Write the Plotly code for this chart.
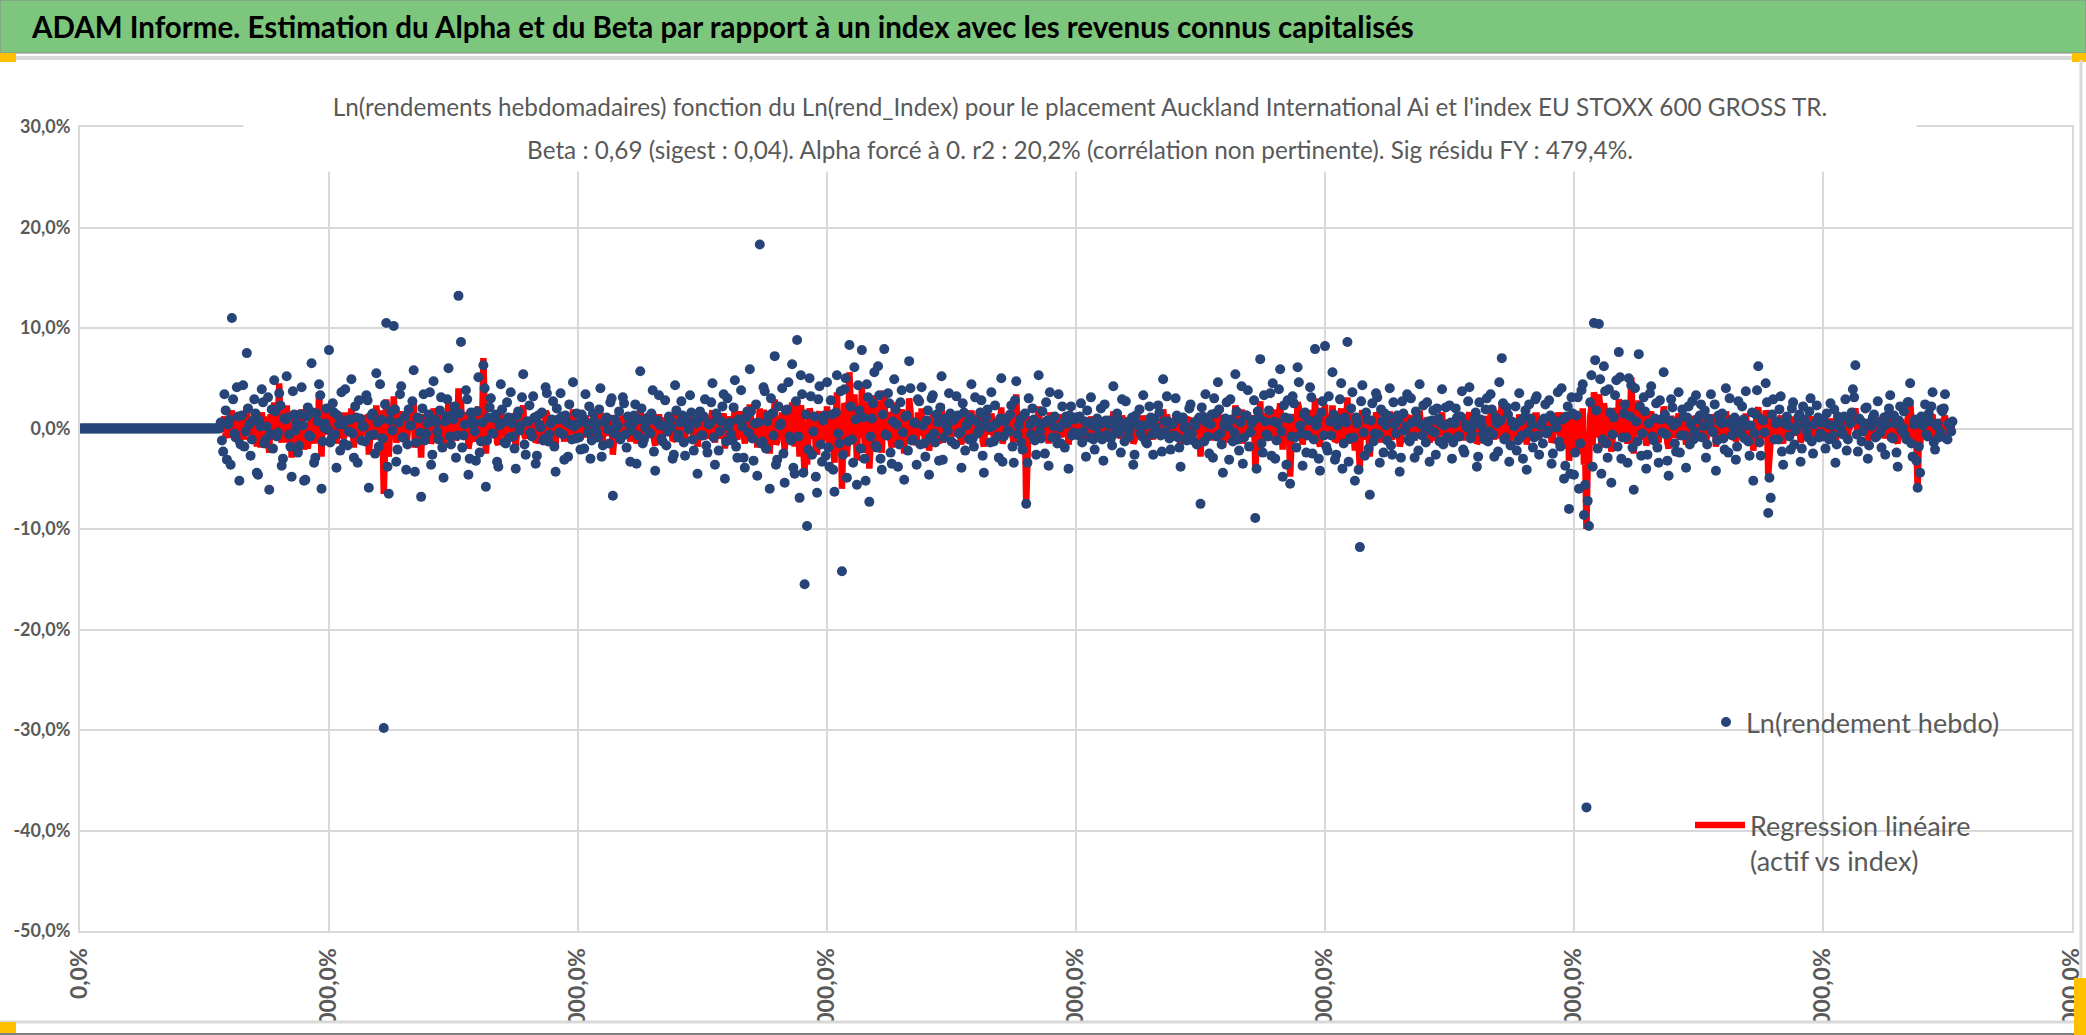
import numpy as np
import plotly.graph_objects as go

W, H = 2086, 1035

titre = "ADAM Informe. Estimation du Alpha et du Beta par rapport à un index avec les revenus connus capitalisés"
sous_titre_1 = "Ln(rendements hebdomadaires) fonction du Ln(rend_Index) pour le placement Auckland International Ai et l'index EU STOXX 600 GROSS TR."
sous_titre_2 = "Beta : 0,69 (sigest : 0,04). Alpha forcé à 0. r2 : 20,2% (corrélation non pertinente). Sig résidu FY : 479,4%."
nom_points = "Ln(rendement hebdo)"
nom_regression = "Regression linéaire<br>(actif vs index)"

y_ticks = [0.3, 0.2, 0.1, 0.0, -0.1, -0.2, -0.3, -0.4, -0.5]
y_tick_labels = ["30,0%", "20,0%", "10,0%", "0,0%", "-10,0%", "-20,0%", "-30,0%", "-40,0%", "-50,0%"]
x_ticks = [0, 200, 400, 600, 800, 1000, 1200, 1400, 1600]
x_tick_labels = ["0,0%", "20000,0%", "40000,0%", "60000,0%", "80000,0%",
                 "100000,0%", "120000,0%", "140000,0%", "160000,0%"]

# Ln(rendement hebdo) en %, périodes paires (0, 2, 4 ... 1504) ; bloc k = période 2k
rendement_pair = [
    # k 0-56 : pas encore de cotation
    0, 0, 0, 0, 0, 0, 0, 0, 0, 0, 0, 0, 0, 0, 0, 0, 0, 0, 0, 0, 0, 0, 0, 0, 0, 0, 0, 0, 0,
    0, 0, 0, 0, 0, 0, 0, 0, 0, 0, 0, 0, 0, 0, 0, 0, 0, 0, 0, 0, 0, 0, 0, 0, 0, 0, 0, 0,
    # k 57-99
    -1.2, 3.4, -3.1, 0.9, 11.0, -0.5, 4.1, -5.2, 1.3, -1.8, 7.5, 0.4, -1.1, 2.9, -4.4, 0.8, 3.9, -1.5, 0.2, -6.1, 1.9, 4.8,
    -0.8, 3.5, -3.7, 1.0, 5.2, -0.6, -4.8, 1.4, 0.5, -1.7, 4.1, -5.2, 1.2, -0.7, 6.5, -3.4, 1.5, 4.4, -6.0, 0.1, 2.0,
    # k 100-149
    7.8, -1.0, 1.6, -3.9, 0.4, 3.6, -1.5, 0.8, -0.3, 4.9, -2.9, 1.1, 2.8, -1.2, 0.2, 3.3, -5.9, 1.3, -0.6, 5.5, -1.8, 0.9, -29.8, 10.5, -6.5,
    1.7, 10.2, -3.3, 0.6, 4.2, -0.9, -4.1, 1.9, 0.3, 5.8, -1.4, 1.0, -6.8, 3.4, -0.5, 1.4, -3.6, 4.7, 0.6, -1.1, 3.1, -4.9, 1.2, 6.0, -1.6,
    # k 150-199
    0.9, -2.9, 13.2, 8.6, -0.7, 3.8, -4.6, 1.6, 0.4, -3.2, 5.1, -1.3, 6.3, -5.8, 1.1, 3.0, -0.5, 1.4, -3.8, 4.4, 0.6, -1.5, 1.1, 3.6, -0.8,
    -4.0, 1.7, 0.3, 5.4, -2.6, 0.7, -0.4, 3.2, -3.5, 1.3, 0.1, -1.2, 4.1, -1.3, 0.5, 2.7, -4.3, 0.9, 3.5, -0.6, 1.3, -2.8, 0.4, 4.6, -1.0,
    # k 200-249
    0.5, -2.1, 1.0, 3.4, -0.4, -3.0, 1.5, 0.2, -0.9, 4.0, -1.7, 0.7, -0.1, 2.6, -6.7, 0.9, 0.3, -1.1, 3.1, -0.6, 1.2, -3.3, 0.5, 2.4, -0.7,
    5.7, -1.5, 0.1, 1.1, -0.5, 3.8, -4.2, 0.8, 0.3, -1.3, 2.8, -0.3, 0.9, -3.0, 4.3, -0.9, 0.6, 1.3, -2.7, 0.4, 3.3, -1.1, 0.7, -4.5, 1.7,
    # k 250-299
    -0.7, 2.9, -2.4, 0.5, 4.5, -3.6, 1.0, -0.3, 2.2, -5.0, 3.0, 0.6, -1.2, 4.8, -2.9, 0.8, 0.2, -3.9, 1.7, 5.9, -1.0, 0.5, -4.7, 18.3, -1.3,
    3.7, 0.7, -6.0, 1.5, 7.2, -3.1, 0.3, 4.0, -5.4, 1.9, -0.8, 6.4, -4.5, 8.8, -6.9, 3.4, -15.5, -9.7, 5.0, -2.6, 1.2, -6.4, 4.2, -3.3, 1.3,
    # k 300-349
    4.6, -3.8, 1.4, -6.3, 5.3, -1.5, -14.2, 3.9, -4.9, 8.3, -1.1, 6.1, -5.6, 1.8, 7.8, -3.0, 4.4, -7.3, 1.0, 5.6, -1.9, 3.3, -4.1, 7.9, -0.7,
    2.5, -3.5, 4.9, 0.4, -1.6, 3.8, -5.1, 1.3, 6.7, -1.2, 0.6, -3.6, 2.7, 4.1, -1.5, 0.8, -4.6, 3.0, -0.5, 1.4, -3.2, 5.2, -0.9, 0.3, 3.5,
    # k 350-399
    -1.3, 0.9, 3.2, -0.5, -3.9, 1.6, 0.3, -1.1, 4.4, -1.8, 0.7, -0.2, 2.8, -4.4, 1.1, 0.1, 3.6, -1.3, 0.5, -2.9, 5.0, -0.8, 1.0, -0.3, 2.3,
    -3.4, 4.7, 0.3, -1.4, 1.3, -7.5, 3.0, -0.6, 0.9, -2.6, 5.3, -1.0, 0.5, 2.6, -3.7, 0.7, 0.2, -0.9, 3.4, -1.5, 0.6, 1.2, -4.0, 2.2, -0.4,
    # k 400-449
    1.1, -0.7, 2.5, -0.3, -2.8, 0.6, 3.1, -1.1, 0.2, -0.6, 2.0, -3.2, 0.8, 0.4, -1.0, 4.2, -0.5, 0.9, -2.4, 0.1, 2.7, -0.9, 0.5, -3.6, 1.3,
    0.3, -0.5, 3.3, -1.3, 0.4, 1.1, -2.6, 0.1, 2.3, -0.7, 4.9, -0.3, 0.7, -2.1, 0.5, 3.0, -0.9, -3.8, 1.1, 0.2, -0.6, 2.4, -1.2, 0.3, 0.9,
    # k 450-499
    -7.5, 1.2, 3.4, -0.8, 0.4, -2.9, 1.5, 4.6, -0.5, -4.4, 1.0, 0.2, 2.9, -1.3, 5.4, -1.1, 0.6, -3.5, 1.3, 3.8, -0.4, 0.8, -8.9, 1.7, 6.9,
    -2.4, 0.7, -0.8, 3.5, 4.5, -3.0, 0.5, 5.9, -4.8, 1.1, 2.8, -5.5, 3.2, -0.9, 6.1, 0.3, -3.7, 1.6, -0.7, 4.1, -2.5, 7.9, 0.9, -4.2, 2.7,
    # k 500-549
    8.2, -2.2, 0.7, 5.6, -3.1, 0.3, 2.9, -4.0, 1.1, 8.6, -1.0, 3.6, -5.2, 0.5, -11.8, 4.3, -2.7, 0.9, -6.6, 2.5, -0.5, 3.1, -3.4, 0.7, 1.5,
    -1.2, 4.0, -2.6, 0.4, 1.3, -4.3, 2.7, -0.2, 3.4, -1.3, 0.6, -2.9, 1.0, 4.4, -0.7, 0.2, 2.6, -3.3, 0.8, -0.4, 2.0, -1.3, 3.9, 0.3, -0.9,
    # k 550-599
    2.3, -3.0, 0.5, 1.1, -0.8, 3.7, -2.4, 0.1, 4.1, -0.6, 0.9, -3.8, 2.6, 0.3, -1.1, 3.0, -0.3, 1.9, -2.8, 0.5, 4.6, 7.0, -1.1, 2.1, -3.3,
    0.7, 0.2, -2.2, 3.5, -0.7, 1.1, -4.1, 2.4, 0.4, -0.9, 3.2, -2.6, 0.6, 1.0, -0.5, 2.8, -3.5, 0.8, 0.1, -1.3, 4.0, -5.0, 1.2, -8.0, 3.1,
    # k 600-649
    -4.6, 1.3, -6.0, 3.8, -8.6, -37.7, -9.7, 5.3, 10.5, 1.8, 10.4, -4.5, 6.2, -1.5, 3.9, -5.4, 1.1, 4.8, 7.6, -3.0, 1.5, -0.9, 5.0, 4.3, -6.1,
    0.7, 7.4, -2.7, 3.1, -4.0, 0.5, 4.2, -1.2, 2.5, -3.4, 0.9, 5.6, -0.6, -4.7, 2.9, 0.3, -2.3, 3.6, -0.7, 1.2, -3.9, 2.2, 0.4, -1.1, 3.3,
    # k 650-699
    -0.8, 2.4, 0.2, -2.9, 1.0, 3.4, -0.4, -4.2, 1.3, 0.5, -1.0, 4.0, -2.4, 0.7, 0.1, -3.1, 2.7, -0.5, 0.9, 3.7, -1.3, 0.3, -5.2, 1.4, 6.2,
    -2.7, 0.8, 4.5, -8.4, -6.9, 2.9, 0.5, -1.1, 3.2, -3.6, 0.7, 0.3, -2.1, 2.6, -0.2, 1.1, -3.3, 2.2, 0.4, -0.9, 3.0, -2.5, 0.6, 1.1, -0.5,
    # k 700-752
    0.9, -2.0, 0.4, 2.5, -0.7, -3.4, 1.2, 0.1, -0.6, 2.9, -1.1, 0.5, 3.9, 6.3, -2.3, 0.8, -0.3, 2.0, -3.0, 0.6, 1.1, -0.9, 2.7, -0.4, 0.2, -2.6,
    1.3, 3.3, -1.0, 0.5, -3.8, 2.2, 0.1, -0.7, 2.6, 4.5, -2.8, 0.9, -5.9, -4.4, 0.3, 2.4, -0.8, 0.7, 3.6, -2.1, 0.5, -0.3, 1.7, 3.4, -1.1, 0.3, 0.7,
]

# Ln(rendement hebdo) en %, périodes impaires (1, 3 ... 1503) ; bloc k = période 2k+1
rendement_impair = [
    # k 0-55 : pas encore de cotation
    0, 0, 0, 0, 0, 0, 0, 0, 0, 0, 0, 0, 0, 0, 0, 0, 0, 0, 0, 0, 0, 0, 0, 0, 0, 0, 0, 0,
    0, 0, 0, 0, 0, 0, 0, 0, 0, 0, 0, 0, 0, 0, 0, 0, 0, 0, 0, 0, 0, 0, 0, 0, 0, 0, 0, 0,
    # k 56-99
    0.6, -2.3, 1.8, 0.4, -3.6, 2.9, -0.9, 1.2, -1.6, 4.3, -0.3, 2.0, -2.7, 0.8, 1.5, -4.6, 0.2, 2.6, -1.1, 3.1, -0.6, -2.0,
    1.7, -0.4, 2.3, -3.0, 0.9, 1.1, -1.8, 3.7, -0.2, -2.4, 1.4, 0.3, -5.1, 2.1, -0.8, 1.6, -2.9, 0.7, 3.3, -1.3, 0.5, -0.1,
    # k 100-149
    -1.4, 2.5, -0.6, 1.3, -2.2, 0.4, 3.9, -1.7, 0.9, -0.5, 2.2, -3.4, 1.0, 0.2, -1.3, 2.8, -0.7, 1.5, -2.5, 0.6, 4.4, -1.0, 2.4, -3.8, 0.8,
    -0.2, 1.9, -2.1, 3.4, -0.9, 1.2, -1.6, 0.3, 2.7, -4.3, 1.1, -0.4, 2.0, -1.2, 0.5, 3.6, -2.6, 0.9, -0.3, 1.8, -1.9, 0.7, 2.9, -0.8, 1.4,
    # k 150-199
    2.2, -0.7, 1.5, -1.9, 0.4, 2.9, -3.0, 0.8, -0.3, 1.7, -2.4, 0.6, 4.0, -1.2, 2.1, -0.5, 1.0, -3.3, 0.3, 1.9, -1.4, 2.6, -0.9, 0.5, -2.0,
    1.3, -0.2, 3.1, -1.6, 0.7, 2.3, -0.8, 1.1, -2.7, 0.4, 1.6, -1.0, 3.5, -0.6, 0.9, -1.8, 2.0, -0.4, 1.2, -3.1, 0.6, 2.4, -1.1, 0.2, 1.5,
    # k 200-249
    -0.9, 1.4, -2.0, 0.5, 2.2, -1.2, 0.8, -0.3, 1.9, -2.8, 0.6, 1.1, -1.5, 3.0, -0.5, 0.2, 1.7, -0.8, 2.5, -1.9, 0.4, -0.2, 1.3, -3.5, 0.9,
    2.0, -1.1, 0.6, -0.4, 1.5, -2.3, 0.7, 3.3, -1.0, 0.3, -1.7, 1.2, 0.1, -2.6, 1.8, -0.6, 2.7, -1.4, 0.8, -0.1, 1.6, -2.2, 0.5, 1.0, -0.7,
    # k 250-299
    1.2, -1.7, 0.4, 2.6, -0.9, 1.5, -2.2, 0.7, 3.4, -1.3, 0.2, -0.6, 2.1, -1.8, 0.9, 3.8, -2.9, 1.1, -0.4, 1.7, -3.2, 2.4, 0.6, -1.5, 4.1,
    -2.0, 1.3, 3.0, -0.7, -3.6, 2.2, 0.5, -2.5, 1.8, 4.6, -1.2, -3.9, 2.7, -0.8, 5.3, -4.4, 1.4, -2.1, 3.2, -0.3, -4.8, 2.9, -1.6, 0.8, -2.7,
    # k 300-349
    -1.9, 2.8, -4.1, 1.6, -0.5, 3.7, -2.6, 5.0, -1.3, 2.2, -3.4, 0.9, 4.3, -2.0, 1.1, -5.2, 3.1, -0.8, 2.5, -1.7, 6.2, -3.0, 1.4, -0.6, 3.5,
    -2.4, 0.7, 1.9, -3.8, 2.6, -0.4, 1.2, -2.2, 4.0, -1.1, 0.5, 2.9, -1.6, 0.3, -2.8, 1.8, -0.9, 3.3, -1.4, 0.6, 2.1, -3.1, 1.0, -0.2, 1.5,
    # k 350-399
    0.8, -1.6, 1.3, -0.4, 2.5, -2.2, 0.6, 1.1, -1.0, 3.1, -0.5, 1.6, -2.7, 0.3, 1.9, -1.4, 0.2, 2.3, -0.8, 1.0, -3.3, 0.7, -0.2, 1.4, -1.8,
    2.8, -0.6, 0.9, -2.1, 1.5, -3.4, 0.4, 2.0, -1.2, 0.6, -0.3, 1.7, -2.5, 0.8, 3.6, -0.9, 1.2, -1.5, 0.1, 2.2, -1.9, 0.5, 1.3, -0.7, 0.9,
    # k 400-449
    -0.5, 1.2, -1.4, 0.7, 1.8, -0.9, 0.3, -2.1, 1.0, 0.4, -1.1, 2.4, -0.6, 0.8, -1.7, 0.2, 1.5, -0.4, 2.9, -1.3, 0.6, -0.2, 1.1, -2.6, 0.5,
    1.9, -0.8, 0.3, -1.5, 2.2, -0.6, 1.0, -0.3, 1.6, -2.3, 0.7, 3.2, -1.0, 0.4, -0.7, 1.3, -1.9, 0.9, 0.1, -1.2, 2.0, -0.5, 0.6, -1.6, 1.1,
    # k 450-499
    2.1, -1.3, 0.6, -2.5, 1.4, 3.0, -0.8, 1.9, -1.6, 0.4, 2.6, -3.1, 0.9, -0.4, 1.7, -2.2, 4.2, -0.9, 1.3, -1.8, 0.5, 2.8, -4.0, 1.1, -1.5,
    3.3, -0.6, 1.8, -2.7, 0.7, -1.2, 3.9, -0.3, 2.3, -3.6, 1.0, -0.8, 2.5, -1.9, 4.6, -0.5, 1.4, -2.4, 0.8, 3.1, -1.1, 0.3, -3.0, 1.6, -0.7,
    # k 500-549
    -1.8, 3.2, -0.7, 1.4, -2.6, 0.9, 4.5, -1.5, 0.6, -3.3, 2.0, -0.9, 1.1, -4.1, 2.7, -0.4, 1.6, -2.0, 0.8, -1.3, 3.5, -0.6, 1.9, -2.4, 0.3,
    1.2, -1.7, 2.6, -0.5, 0.9, -2.9, 1.5, 0.2, -1.1, 3.0, -0.8, 1.7, -2.2, 0.4, 2.3, -1.4, 0.7, -0.2, 1.8, -2.6, 1.0, 0.5, -1.6, 2.1, -0.9,
    # k 550-599
    0.6, -1.4, 2.0, -0.8, 1.2, -2.1, 0.4, 2.7, -1.0, 0.3, 1.6, -2.8, 0.9, -0.5, 1.9, -1.3, 3.4, -0.6, 1.1, -2.3, 0.8, 2.5, -0.9, 1.4, -1.7,
    0.5, 2.2, -1.2, 0.7, -3.0, 1.8, -0.4, 1.0, -1.9, 2.9, -0.7, 0.3, -1.5, 2.4, -0.2, 1.3, -2.5, 0.6, 3.6, -1.8, 0.9, -3.7, 2.2, -4.5, 1.5,
    # k 600-649
    -2.4, 3.1, -1.5, 4.4, -5.6, -7.2, 2.6, -3.8, 6.8, -2.0, 4.9, -1.1, 3.7, -2.9, 1.6, -0.6, 3.3, -1.8, 5.1, -0.9, 2.4, -3.4, 1.2, -1.9, 4.0,
    -1.3, 2.2, -0.5, 1.7, -2.6, 3.5, -0.8, 1.0, -1.9, 2.8, -0.4, 1.4, -3.2, 0.8, 2.1, -1.5, 0.6, -2.4, 1.9, -0.7, 1.1, -1.6, 2.7, -0.3, 0.9,
    # k 650-699
    1.3, -0.9, 1.8, -1.6, 0.5, -0.3, 2.4, -1.2, 0.8, 1.5, -2.1, 0.6, 3.0, -0.7, 1.1, -1.8, 0.4, 2.2, -1.0, 0.3, -2.7, 1.6, -0.5, 3.8, -1.4,
    0.9, -0.4, 2.6, -4.9, 1.4, -1.1, 0.7, 1.9, -2.3, 0.5, 1.2, -0.8, 2.0, -1.6, 0.2, 1.4, -2.0, 0.9, -0.3, 1.7, -1.3, 0.4, 2.3, -0.9, 0.6,
    # k 700-751
    -0.8, 1.5, -1.1, 0.3, 1.9, -1.6, 0.7, -0.4, 1.2, -2.2, 0.9, 1.6, 3.1, -0.6, 1.0, -1.3, 0.5, 2.1, -1.7, 0.2, 1.4, -0.8, 0.6, -1.9, 1.1, 0.4,
    2.0, -0.9, 1.3, -2.4, 0.8, -0.2, 1.7, -1.1, 2.6, -1.5, 0.4, -3.2, -1.8, 1.2, 0.7, -0.6, 1.5, 2.2, -1.4, 0.3, -0.9, 1.9, 2.0, -1.0, 0.5, -0.3,
]

# Regression linéaire (Beta x Ln(rend_Index)) en %, périodes paires à partir de k = 57
premier_k_regression = 57
regression_pair = [
    # k 57-99
    -0.4, 1.2, -0.9, 0.6, 1.8, -0.3, 1.5, -1.6, 0.5, -1.1, 2.2, 0.3, -0.7, 0.9, -1.8, 0.4, 1.6, -0.8, 0.2, -2.4, 1.1, 2.6,
    -0.5, 4.5, -1.4, 0.7, 2.3, -0.3, -2.9, 0.8, 0.3, -1.2, 1.9, -2.1, 0.6, -0.4, 2.0, -1.5, 0.9, 3.6, -2.8, 0.1, 1.3,
    # k 100-149
    2.1, -0.6, 0.9, -1.5, 0.3, 1.4, -1.0, 0.5, -0.2, 2.0, -1.9, 0.6, 1.1, -0.7, 0.1, 1.3, -2.6, 0.8, -0.4, 2.3, -1.1, 0.5, -6.5, 2.9, -2.8,
    1.0, 3.2, -1.4, 0.4, 1.7, -0.6, -1.8, 1.2, 0.2, 2.5, -0.9, 0.6, -2.9, 1.4, -0.3, 0.9, -1.5, 2.0, 0.4, -0.7, 1.3, -2.2, 0.7, 2.6, -1.0,
    # k 150-199
    0.5, -1.2, 4.0, 2.8, -0.4, 1.6, -2.0, 1.0, 0.2, -1.3, 2.2, -0.8, 7.0, -2.5, 0.6, 1.2, -0.3, 0.8, -1.6, 1.9, 0.3, -0.9, 0.6, 1.5, -0.4,
    -1.7, 1.0, 0.1, 2.3, -1.0, 0.4, -0.2, 1.3, -1.4, 0.7, 0.1, -0.7, 1.7, -0.8, 0.3, 1.1, -1.8, 0.5, 1.4, -0.3, 0.8, -1.1, 0.2, 1.9, -0.6,
    # k 200-249
    0.3, -0.8, 0.6, 1.3, -0.2, -1.2, 0.9, 0.1, -0.5, 1.6, -1.0, 0.4, -0.1, 1.0, -2.6, 0.5, 0.2, -0.7, 1.2, -0.3, 0.7, -1.3, 0.3, 1.0, -0.4,
    2.0, -0.9, 0.1, 0.6, -0.3, 1.5, -1.7, 0.5, 0.2, -0.8, 1.1, -0.2, 0.5, -1.2, 1.7, -0.5, 0.4, 0.8, -1.1, 0.2, 1.3, -0.6, 0.4, -1.8, 1.0,
    # k 250-299
    -0.4, 1.1, -0.9, 0.3, 1.8, -1.4, 0.6, -0.2, 0.9, -2.0, 1.2, 0.4, -0.7, 1.9, -1.1, 0.5, 0.1, -1.5, 1.0, 2.4, -0.6, 0.3, -1.9, 2.0, -0.8,
    1.5, 0.4, -2.5, 0.9, 2.9, -1.3, 0.2, 1.6, -2.2, 1.1, -0.5, 2.6, -1.8, 3.0, -2.8, 1.4, -4.5, -3.6, 2.0, -1.0, 0.7, -2.6, 1.7, -1.3, 0.8,
    # k 300-349
    2.2, -1.9, 1.0, -3.4, 3.6, -1.1, -6.0, 2.5, -2.8, 5.6, -0.8, 3.4, -3.2, 1.4, 4.1, -1.6, 2.6, -4.0, 0.7, 3.3, -1.5, 1.9, -2.4, 3.8, -0.5,
    1.2, -1.9, 2.6, 0.3, -1.2, 1.9, -2.5, 0.9, 3.0, -0.9, 0.4, -1.7, 1.3, 2.0, -1.1, 0.6, -2.2, 1.4, -0.3, 1.0, -1.5, 2.4, -0.6, 0.2, 1.6,
    # k 350-399
    -0.8, 0.5, 1.3, -0.3, -1.6, 1.0, 0.2, -0.6, 1.8, -1.1, 0.4, -0.1, 1.1, -1.8, 0.7, 0.1, 1.5, -0.8, 0.3, -1.2, 2.1, -0.5, 0.6, -0.2, 0.9,
    -1.4, 3.4, 0.2, -0.9, 0.8, -7.6, 1.2, -0.4, 0.6, -1.1, 2.2, -0.6, 0.3, 1.1, -1.5, 0.4, 0.1, -0.6, 1.4, -0.9, 0.4, 0.7, -1.6, 0.9, -0.2,
    # k 400-449
    0.6, -0.4, 1.0, -0.1, -1.1, 0.3, 1.2, -0.7, 0.1, -0.3, 0.8, -1.3, 0.5, 0.2, -0.6, 1.7, -0.3, 0.5, -1.0, 0.1, 1.1, -0.5, 0.3, -1.5, 0.8,
    0.2, -0.3, 1.3, -0.8, 0.2, 0.7, -1.1, 0.0, 0.9, -0.4, 1.9, -0.2, 0.4, -0.9, 0.3, 1.2, -0.6, -1.6, 0.6, 0.1, -0.4, 1.0, -0.7, 0.2, 0.5,
    # k 450-499
    -2.8, 0.7, 1.4, -0.5, 0.2, -1.2, 0.9, 2.0, -0.3, -1.9, 0.6, 0.1, 1.2, -0.8, 2.3, -0.7, 0.4, -1.5, 0.8, 1.6, -0.2, 0.5, -3.9, 1.1, 2.7,
    -1.0, 0.4, -0.5, 1.5, 1.9, -1.3, 0.3, 2.5, -2.1, 0.7, 1.2, -4.8, 1.4, -0.6, 2.6, 0.2, -1.6, 1.0, -0.4, 1.8, -1.1, 3.0, 0.5, -1.8, 1.1,
    # k 500-549
    2.4, -0.9, 0.4, 2.3, -1.3, 0.2, 1.2, -1.7, 0.7, 3.1, -0.6, 1.5, -2.2, 0.3, -3.9, 1.8, -1.1, 0.6, -2.8, 1.0, -0.3, 1.3, -1.4, 0.4, 0.9,
    -0.7, 1.7, -1.1, 0.2, 0.8, -1.8, 1.1, -0.1, 1.4, -0.8, 0.4, -1.2, 0.6, 1.8, -0.5, 0.1, 1.1, -1.4, 0.5, -0.2, 0.8, -0.8, 1.6, 0.2, -0.6,
    # k 550-599
    0.9, -1.2, 0.3, 0.6, -0.5, 1.4, -0.9, 0.1, 1.6, -0.4, 0.5, -1.5, 1.0, 0.2, -0.7, 1.2, -0.2, 0.8, -1.1, 0.3, 1.8, 2.6, -0.6, 0.8, -1.3,
    0.4, 0.1, -0.9, 1.4, -0.4, 0.7, -1.6, 1.0, 0.2, -0.6, 1.3, -1.0, 0.4, 0.6, -0.3, 1.1, -1.4, 0.5, 0.0, -0.8, 1.6, -2.0, 0.7, -3.2, 1.2,
    # k 600-649
    -1.9, 0.8, -2.5, 1.7, -3.6, -10.0, -4.2, 2.2, 3.6, 1.1, 3.4, -1.9, 2.5, -0.9, 1.6, -2.3, 0.6, 2.0, 2.9, -1.2, 0.9, -0.5, 2.1, 5.1, -2.5,
    0.4, 2.8, -1.1, 1.3, -1.7, 0.3, 1.7, -0.7, 1.0, -1.4, 0.5, 2.2, -0.3, -2.0, 1.2, 0.1, -0.9, 1.5, -0.4, 0.7, -1.6, 0.9, 0.2, -0.6, 1.3,
    # k 650-699
    -0.5, 1.0, 0.1, -1.2, 0.6, 1.4, -0.2, -1.8, 0.8, 0.3, -0.6, 1.7, -1.0, 0.4, 0.1, -1.3, 1.1, -0.3, 0.6, 1.5, -0.8, 0.2, -2.2, 0.9, 2.1,
    -1.1, 0.5, 1.8, -4.6, -2.9, 1.2, 0.3, -0.7, 1.3, -1.5, 0.4, 0.2, -0.9, 1.1, -0.1, 0.7, -1.4, 0.9, 0.2, -0.6, 1.2, -1.0, 0.4, 0.7, -0.3,
    # k 700-752
    0.6, -0.8, 0.2, 1.0, -0.4, -1.4, 0.7, 0.1, -0.3, 1.2, -0.7, 0.3, 1.6, 2.0, -0.9, 0.5, -0.1, 0.8, -1.2, 0.3, 0.6, -0.5, 1.1, -0.2, 0.1, -1.0,
    0.8, 1.3, -0.6, 0.3, -1.5, 0.9, 0.0, -0.4, 1.0, 2.8, -1.1, 0.5, -6.0, -1.8, 0.2, 1.0, -0.5, 0.4, 1.4, -0.8, 0.3, -0.2, 0.7, 1.3, -0.6, 0.2, 0.5,
]

# Regression linéaire en %, périodes impaires à partir de k = 57
regression_impair = [
    # k 57-99
    0.5, -0.7, 0.2, 1.1, -0.9, 0.6, -1.3, 0.8, -0.4, 1.5, -0.2, 0.7, -1.2, 0.3, 1.0, -1.9, 0.4, 1.2, -0.6, 1.4, -0.3, -0.8,
    0.9, -0.1, 1.6, -1.4, 0.5, 0.6, -1.0, 1.8, -0.2, -1.1, 0.7, 0.1, -2.0, 1.0, -0.5, 0.8, -1.5, 0.4, 1.7, -0.6, 0.2,
    # k 100-149
    -0.6, 1.0, -0.3, 0.6, -1.0, 0.2, 1.6, -0.7, 0.4, -0.2, 0.9, -1.4, 0.5, 0.1, -0.6, 1.2, -0.3, 0.7, -1.1, 0.3, 1.8, -0.5, 1.1, -1.6, 0.4,
    -0.1, 0.8, -0.9, 1.5, -0.4, 0.5, -0.7, 0.1, 1.2, -1.9, 0.5, -0.2, 0.9, -0.5, 0.2, 1.5, -1.1, 0.4, -0.1, 0.8, -0.8, 0.3, 1.3, -0.4, 0.6,
    # k 150-199
    1.0, -0.3, 0.7, -0.8, 0.2, 1.3, -1.3, 0.4, -0.1, 0.8, -1.1, 0.3, 1.9, -0.5, 0.9, -0.2, 0.5, -1.4, 0.1, 0.8, -0.6, 1.1, -0.4, 0.2, -0.9,
    0.6, -0.1, 1.4, -0.7, 0.3, 1.0, -0.4, 0.5, -1.2, 0.2, 0.7, -0.5, 1.5, -0.3, 0.4, -0.8, 0.9, -0.2, 0.5, -1.3, 0.3, 1.1, -0.5, 0.1, 0.7,
    # k 200-249
    -0.4, 0.6, -0.9, 0.2, 1.0, -0.5, 0.4, -0.1, 0.8, -1.2, 0.3, 0.5, -0.7, 1.3, -0.2, 0.1, 0.7, -0.4, 1.1, -0.8, 0.2, -0.1, 0.6, -1.5, 0.4,
    0.9, -0.5, 0.3, -0.2, 0.7, -1.0, 0.3, 1.4, -0.4, 0.1, -0.7, 0.5, 0.0, -1.1, 0.8, -0.3, 1.2, -0.6, 0.4, -0.1, 0.7, -1.0, 0.2, 0.4, -0.3,
    # k 250-299
    0.5, -0.8, 0.2, 1.1, -0.4, 0.7, -1.0, 0.3, 1.5, -0.6, 0.1, -0.3, 0.9, -0.8, 0.4, 1.7, -1.3, 0.5, -0.2, 0.8, -1.4, 1.0, 0.3, -0.7, 1.8,
    -0.9, 0.6, 1.3, -0.3, -1.6, 1.0, 0.2, -1.1, 0.8, 2.0, -0.5, -1.7, 1.2, -0.4, 2.3, -1.9, 0.6, -0.9, 1.4, -0.1, -2.1, 1.3, -0.7, 0.4, -1.2,
    # k 300-349
    -0.8, 1.3, -1.8, 0.7, -0.2, 1.7, -1.2, 2.3, -0.6, 1.0, -1.5, 0.4, 2.0, -0.9, 0.5, -2.4, 1.4, -0.4, 1.1, -0.8, 2.8, -1.4, 0.6, -0.3, 1.6,
    -1.1, 0.3, 0.9, -1.7, 1.2, -0.2, 0.5, -1.0, 1.8, -0.5, 0.2, 1.3, -0.7, 0.1, -1.3, 0.8, -0.4, 1.5, -0.6, 0.3, 0.9, -1.4, 0.4, -0.1, 0.7,
    # k 350-399
    0.3, -0.7, 0.6, -0.2, 1.1, -1.0, 0.3, 0.5, -0.4, 1.4, -0.2, 0.7, -1.2, 0.1, 0.8, -0.6, 0.1, 1.0, -0.4, 0.4, -1.5, 0.3, -0.1, 0.6, -0.8,
    1.3, -0.3, 0.4, -0.9, 0.7, -1.5, 0.2, 0.9, -0.5, 0.3, -0.1, 0.8, -1.1, 0.4, 1.6, -0.4, 0.5, -0.7, 0.0, 1.0, -0.8, 0.2, 0.6, -0.3, 0.4,
    # k 400-449
    -0.2, 0.5, -0.6, 0.3, 0.8, -0.4, 0.1, -0.9, 0.4, 0.2, -0.5, 1.1, -0.3, 0.4, -0.8, 0.1, 0.7, -0.2, 1.3, -0.6, 0.3, -0.1, 0.5, -1.2, 0.2,
    0.9, -0.4, 0.1, -0.7, 1.0, -0.3, 0.4, -0.1, 0.7, -1.0, 0.3, 1.4, -0.4, 0.2, -0.3, 0.6, -0.9, 0.4, 0.0, -0.5, 0.9, -0.2, 0.3, -0.7, 0.5,
    # k 450-499
    0.9, -0.6, 0.3, -1.1, 0.6, 1.3, -0.4, 0.8, -0.7, 0.2, 1.2, -1.4, 0.4, -0.2, 0.8, -1.0, 1.9, -0.4, 0.6, -0.8, 0.2, 1.3, -1.8, 0.5, -0.7,
    1.5, -0.3, 0.8, -1.2, 0.3, -0.5, 1.7, -0.1, 1.0, -1.6, 0.4, -0.4, 1.1, -0.8, 2.1, -0.2, 0.6, -1.1, 0.4, 1.4, -0.5, 0.1, -1.3, 0.7, -0.3,
    # k 500-549
    -0.8, 1.4, -0.3, 0.6, -1.2, 0.4, 2.0, -0.7, 0.3, -1.5, 0.9, -0.4, 0.5, -1.8, 1.2, -0.2, 0.7, -0.9, 0.4, -0.6, 1.6, -0.3, 0.8, -1.1, 0.1,
    0.5, -0.8, 1.2, -0.2, 0.4, -1.3, 0.7, 0.1, -0.5, 1.3, -0.4, 0.8, -1.0, 0.2, 1.0, -0.6, 0.3, -0.1, 0.8, -1.2, 0.4, 0.2, -0.7, 0.9, -0.4,
    # k 550-599
    0.3, -0.6, 0.9, -0.4, 0.5, -0.9, 0.2, 1.2, -0.4, 0.1, 0.7, -1.3, 0.4, -0.2, 0.8, -0.6, 1.5, -0.3, 0.5, -1.0, 0.4, 1.1, -0.4, 0.6, -0.8,
    0.2, 1.0, -0.5, 0.3, -1.3, 0.8, -0.2, 0.4, -0.8, 1.3, -0.3, 0.1, -0.7, 1.1, -0.1, 0.6, -1.1, 0.3, 1.6, -0.8, 0.4, -1.6, 1.0, -2.0, 0.7,
    # k 600-649
    -1.1, 1.4, -0.7, 2.0, -2.5, -3.2, 1.2, -1.7, 3.0, -0.9, 2.2, -0.5, 1.7, -1.3, 0.7, -0.3, 1.5, -0.8, 2.3, -0.4, 1.1, -1.5, 0.5, -0.9, 1.8,
    -0.6, 1.0, -0.2, 0.8, -1.2, 1.6, -0.4, 0.5, -0.9, 1.3, -0.2, 0.6, -1.4, 0.4, 0.9, -0.7, 0.3, -1.1, 0.9, -0.3, 0.5, -0.7, 1.2, -0.1, 0.4,
    # k 650-699
    0.6, -0.4, 0.8, -0.7, 0.2, -0.1, 1.1, -0.5, 0.4, 0.7, -0.9, 0.3, 1.3, -0.3, 0.5, -0.8, 0.2, 1.0, -0.4, 0.1, -1.2, 0.7, -0.2, 1.7, -0.6,
    0.4, -0.2, 1.2, -2.2, 0.6, -0.5, 0.3, 0.9, -1.0, 0.2, 0.5, -0.4, 0.9, -0.7, 0.1, 0.6, -0.9, 0.4, -0.1, 0.8, -0.6, 0.2, 1.0, -0.4, 0.3,
    # k 700-751
    -0.4, 0.7, -0.5, 0.1, 0.9, -0.7, 0.3, -0.2, 0.5, -1.0, 0.4, 0.7, 1.4, -0.3, 0.5, -0.6, 0.2, 0.9, -0.8, 0.1, 0.6, -0.4, 0.3, -0.9, 0.5, 0.2,
    0.9, -0.4, 0.6, -1.1, 0.4, -0.1, 0.8, -0.5, 1.2, -0.7, 0.2, -1.4, -0.8, 0.5, 0.3, -0.3, 0.7, 1.0, -0.6, 0.1, -0.4, 0.9, 0.9, -0.5, 0.2, -0.1,
]

# positions sur l'axe x
x_points = np.concatenate([2 * np.arange(len(rendement_pair)), 2 * np.arange(len(rendement_impair)) + 1])
y_points = np.concatenate([rendement_pair, rendement_impair]) / 100
x_reg = np.concatenate([2 * (premier_k_regression + np.arange(len(regression_pair))),
                        2 * (premier_k_regression + np.arange(len(regression_impair))) + 1])
y_reg = np.concatenate([regression_pair, regression_impair]) / 100
ordre = np.argsort(x_reg)
x_reg, y_reg = x_reg[ordre], y_reg[ordre]

GRIS = "#595959"
GRILLE = "#d9d9d9"
POLICE = "Lato, Liberation Sans, sans-serif"


def px(x):
    # pixel horizontal -> coordonnée papier
    return x / W


def py(y):
    # pixel vertical (depuis le haut) -> coordonnée papier
    return 1 - y / H


fig = go.Figure()

# Droite de régression d'abord, les points par-dessus
fig.add_trace(go.Scatter(x=x_reg, y=y_reg, mode="lines", name=nom_regression,
                         line=dict(color="#ff0000", width=6.5), legend="legend2"))
fig.add_trace(go.Scatter(x=x_points, y=y_points, mode="markers", name=nom_points,
                         marker=dict(color="#264478", size=10), legend="legend"))

# Bandeau, bordures et petits repères jaunes:
shapes = [
    dict(type="rect", xref="paper", yref="paper", x0=0, x1=1, y0=py(53), y1=1,
         fillcolor="#7dc67d", line=dict(color="#8a8a8a", width=1), layer="below"),
    dict(type="line", xref="paper", yref="paper", x0=px(16), x1=1, y0=py(58), y1=py(58),
         line=dict(color=GRILLE, width=4), layer="below"),
    dict(type="rect", xref="paper", yref="paper", x0=0, x1=px(16), y0=py(62), y1=py(53),
         fillcolor="#ffc000", line=dict(width=0), layer="above"),
    dict(type="rect", xref="paper", yref="paper", x0=px(2072), x1=1, y0=py(62), y1=py(53),
         fillcolor="#ffc000", line=dict(width=0), layer="above"),
    dict(type="line", xref="paper", yref="paper", x0=px(2081), x1=px(2081), y0=py(60), y1=py(1022),
         line=dict(color=GRILLE, width=3), layer="above"),
    # bas du cadre : masque les étiquettes de l'axe x comme dans l'original
    dict(type="rect", xref="paper", yref="paper", x0=0, x1=1, y0=0, y1=py(1022),
         fillcolor="white", line=dict(width=0), layer="above"),
    dict(type="line", xref="paper", yref="paper", x0=0, x1=1, y0=py(1022), y1=py(1022),
         line=dict(color=GRILLE, width=3), layer="above"),
    dict(type="line", xref="paper", yref="paper", x0=0, x1=1, y0=py(1034), y1=py(1034),
         line=dict(color="#7f7f7f", width=2), layer="above"),
    dict(type="rect", xref="paper", yref="paper", x0=0, x1=px(16), y0=py(1033), y1=py(1022),
         fillcolor="#ffc000", line=dict(width=0), layer="above"),
    dict(type="rect", xref="paper", yref="paper", x0=px(2074), x1=1, y0=0, y1=py(978),
         fillcolor="#ffc000", line=dict(width=0), layer="above"),
]

annotations = [
    dict(xref="paper", yref="paper", x=px(29), y=py(27), xanchor="left", yanchor="middle",
         text="<b>" + titre + "</b>", showarrow=False,
         font=dict(family=POLICE, size=29.5, color="black")),
    dict(xref="paper", yref="paper", x=px(1080), y=py(107), xanchor="center", yanchor="middle",
         text=sous_titre_1, showarrow=False, width=1672, height=45, bgcolor="white", borderpad=0,
         font=dict(family=POLICE, size=24.3, color=GRIS)),
    dict(xref="paper", yref="paper", x=px(1080), y=py(150), xanchor="center", yanchor="middle",
         text=sous_titre_2, showarrow=False, width=1672, height=43, bgcolor="white", borderpad=0,
         font=dict(family=POLICE, size=24.3, color=GRIS)),
]

fig.update_layout(
    width=W, height=H,
    margin=dict(l=0, r=0, t=0, b=0, autoexpand=False),
    paper_bgcolor="white", plot_bgcolor="white",
    font=dict(family=POLICE, color=GRIS),
    showlegend=True,
    shapes=shapes,
    annotations=annotations,
    xaxis=dict(domain=[px(80), px(2072)], range=[0, 1600], automargin=False,
               tickvals=x_ticks, ticktext=x_tick_labels, tickangle=-90,
               showgrid=True, gridcolor=GRILLE, gridwidth=2, zeroline=False,
               showline=True, linecolor=GRILLE, linewidth=2, mirror=True,
               ticks="outside", ticklen=6, tickcolor="rgba(0,0,0,0)",
               tickfont=dict(family=POLICE, size=23, color=GRIS, weight="bold")),
    yaxis=dict(domain=[py(931), py(127)], range=[-0.5, 0.3], automargin=False,
               tickvals=y_ticks, ticktext=y_tick_labels,
               showgrid=True, gridcolor=GRILLE, gridwidth=2, zeroline=False,
               showline=True, linecolor=GRILLE, linewidth=2, mirror=True,
               ticks="outside", ticklen=4, tickcolor="rgba(0,0,0,0)",
               tickfont=dict(family=POLICE, size=18, color=GRIS, weight="bold")),
    legend=dict(x=px(1706), y=py(698), xanchor="left", yanchor="top", bgcolor="rgba(0,0,0,0)",
                font=dict(family=POLICE, size=27, color=GRIS)),
    legend2=dict(x=px(1690), y=py(801), xanchor="left", yanchor="top", bgcolor="rgba(0,0,0,0)",
                 valign="top", itemwidth=50, font=dict(family=POLICE, size=27, color=GRIS)),
)

# pas de marge autour du graphique dans la page
fig.write_html("out.html", config={"displayModeBar": False},
               post_script="document.body.style.margin='0';document.body.style.overflow='hidden';")
